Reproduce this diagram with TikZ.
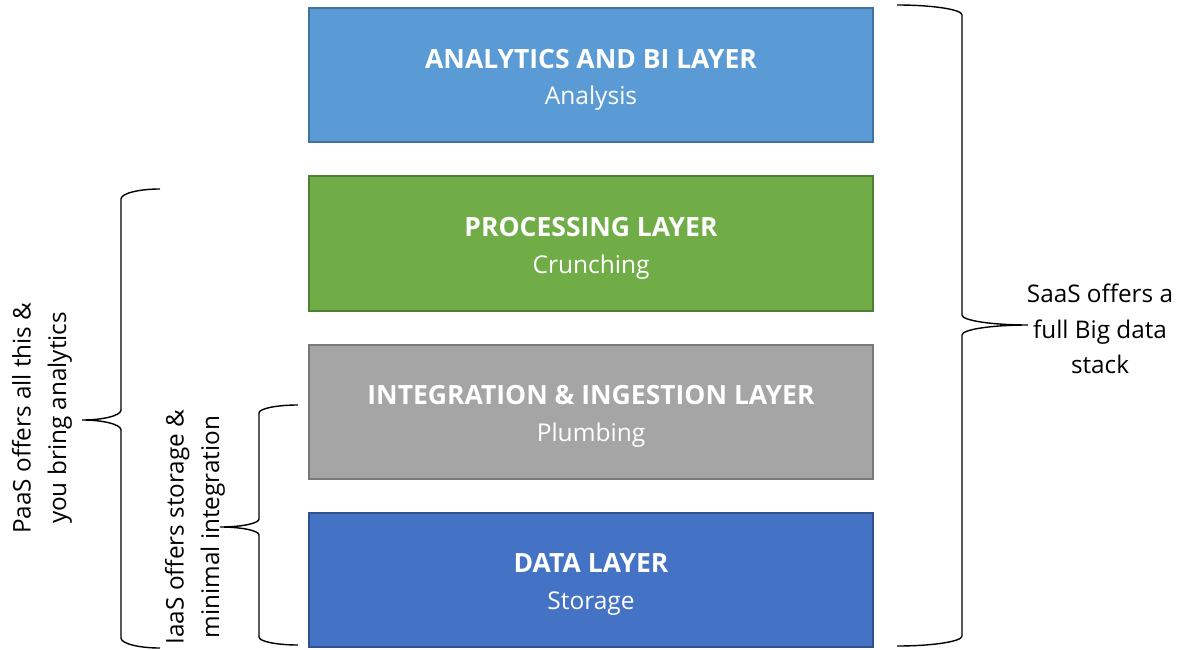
\documentclass[tikz,border=0pt]{standalone}
\usepackage{fontspec}
\setmainfont{Open Sans}
\begin{document}
\begin{tikzpicture}[x=1pt,y=-1pt,
  layer/.style={rectangle, line width=2pt, minimum width=564pt, minimum height=134pt,
    inner sep=0pt},
  caption/.style={text=white, align=center, inner sep=0pt,
    font=\fontsize{24.5}{36.5}\selectfont, yshift=-5pt},
  note/.style={align=center, inner sep=0pt, font=\fontsize{24.3}{35.5}\selectfont},
  bracket/.style={draw=black, line width=1.4pt}]
\useasboundingbox (0,0) rectangle (1184,650);

% Office palette
\definecolor{anaFill}{HTML}{5B9BD5}\definecolor{anaLine}{HTML}{41719C}
\definecolor{proFill}{HTML}{70AD47}\definecolor{proLine}{HTML}{507E32}
\definecolor{intFill}{HTML}{A5A5A5}\definecolor{intLine}{HTML}{787878}
\definecolor{datFill}{HTML}{4472C4}\definecolor{datLine}{HTML}{2F528F}

\newcommand\heading[1]{{\fontsize{26.5}{36.5}\selectfont\bfseries #1}}

% curly brace: end x, spine x, tip x, top y, tip y, bottom y, corner radius
\newcommand\stackbrace[7]{%
  \pgfmathsetmacro\kk{0.552}%
  \draw[bracket] (#1,#4)
    .. controls ({#1+\kk*(#2-#1)},#4) and (#2,{#4+#7-\kk*#7}) .. (#2,{#4+#7})
    -- (#2,{#5-#7})
    .. controls (#2,{#5-#7+\kk*#7}) and ({#3+\kk*(#2-#3)},#5) .. (#3,#5)
    .. controls ({#3+\kk*(#2-#3)},#5) and (#2,{#5+#7-\kk*#7}) .. (#2,{#5+#7})
    -- (#2,{#6-#7})
    .. controls (#2,{#6-#7+\kk*#7}) and ({#1+\kk*(#2-#1)},#6) .. (#1,#6);}

% the four layers
\node[layer, fill=anaFill, draw=anaLine] (ana) at (591,75) {};
\node[caption] (anaText) at (ana.center) {\heading{ANALYTICS AND BI LAYER}\\Analysis};
\node[layer, fill=proFill, draw=proLine] (pro) at (591,243.5) {};
\node[caption] (proText) at (pro.center) {\heading{PROCESSING LAYER}\\Crunching};
\node[layer, fill=intFill, draw=intLine] (int) at (591,411.5) {};
\node[caption] (intText) at (int.center) {\heading{INTEGRATION \& INGESTION LAYER}\\Plumbing};
\node[layer, fill=datFill, draw=datLine] (dat) at (591,579.5) {};
\node[caption] (datText) at (dat.center) {\heading{DATA LAYER}\\Storage};

% service models
\stackbrace{897}{962}{1028}{5}{325}{646}{10}
\node[note] (saas) at (1100,329) {SaaS offers a\\full Big data\\stack};

\stackbrace{160}{121}{82}{189}{420}{648}{10}
\node[note, rotate=90] (paas) at (42,418) {PaaS offers all this \&\\you bring analytics};

\stackbrace{298}{259}{220}{405}{527}{645}{8}
\node[note, rotate=90] (iaas) at (195,527) {IaaS offers storage \&\\minimal integration};
\end{tikzpicture}
\end{document}
